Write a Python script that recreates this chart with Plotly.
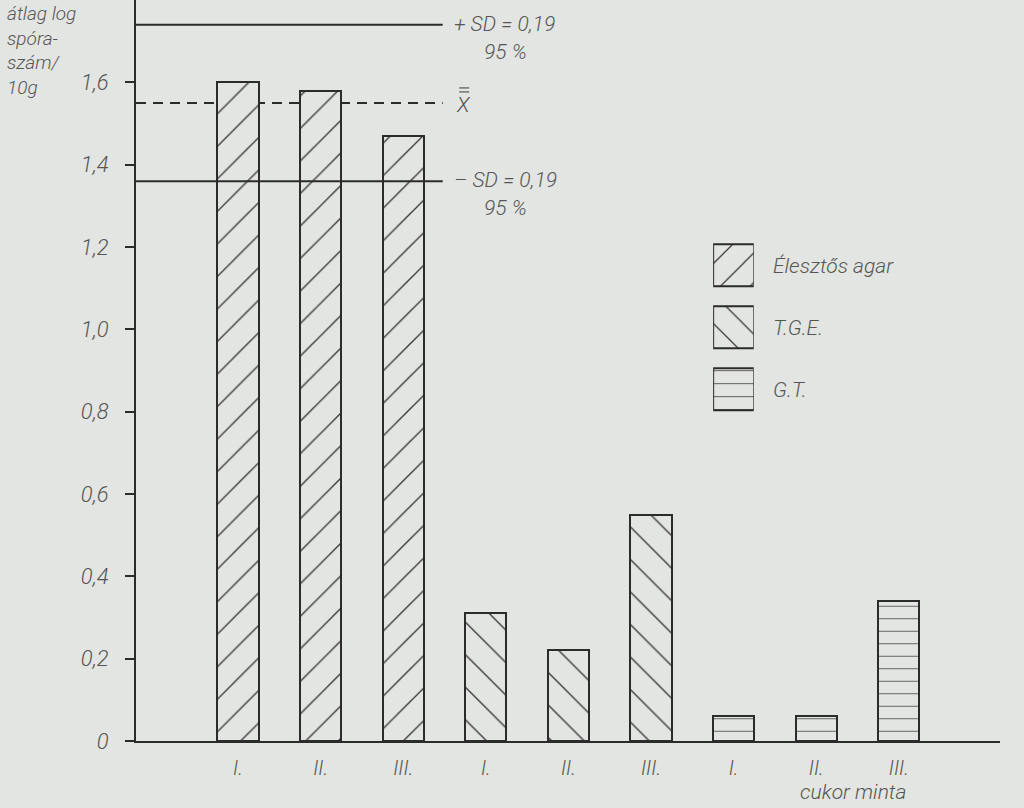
import plotly.graph_objects as go

# Data (mean log spore count / 10 g)
media = ["Élesztős agar", "T.G.E.", "G.T."]
samples = ["I.", "II.", "III."]
elesztos_values = [1.60, 1.58, 1.47]
tge_values = [0.31, 0.22, 0.55]
gt_values = [0.06, 0.06, 0.34]

# Overall mean and +/- SD reference lines
mean_value = 1.55
sd_value = 0.19

y_tick_vals = [0, 0.2, 0.4, 0.6, 0.8, 1.0, 1.2, 1.4, 1.6]
y_tick_text = ["0", "0,2", "0,4", "0,6", "0,8", "1,0", "1,2", "1,4", "1,6"]

BG = "#e3e5e2"
INK = "#2b2b2b"
TXT = "#555555"
FONT = "Roboto"

series = [elesztos_values, tge_values, gt_values]
hatches = {"Élesztős agar": ("/", 23), "T.G.E.": ("\\", 23), "G.T.": ("-", 12.5)}

# unique category keys so the roman numerals can repeat on the axis
keys = [f"{m} {s}" for m in media for s in samples]

fig = go.Figure()

for medium, vals in zip(media, series):
    shape, size = hatches[medium]
    fig.add_trace(go.Bar(
        x=[f"{medium} {s}" for s in samples],
        y=vals,
        width=0.5,
        name=medium,
        marker=dict(
            color=BG,
            line=dict(color=INK, width=2),
            pattern=dict(shape=shape, size=size, solidity=0.06,
                         fgcolor="#3a3a3a", bgcolor=BG, fillmode="replace"),
        ),
        showlegend=False,
    ))

# legend swatches drawn as a tiny horizontal bar chart on its own axes
for medium in media:
    shape, size = hatches[medium]
    fig.add_trace(go.Bar(
        x=[1], y=[medium], orientation="h", width=0.68,
        xaxis="x2", yaxis="y2", showlegend=False, hoverinfo="skip",
        marker=dict(
            color=BG,
            line=dict(color=INK, width=2),
            pattern=dict(shape=shape, size=21 if shape != "-" else 13,
                         solidity=0.06, fgcolor="#3a3a3a", bgcolor=BG,
                         fillmode="replace"),
        ),
    ))

italic = dict(family=FONT, color=TXT, style="italic", weight=300)

line_end = 0.355  # reference lines stop just past the third bar
fig.add_shape(type="line", xref="paper", x0=0, x1=line_end,
              y0=mean_value, y1=mean_value, layer="below",
              line=dict(color=INK, width=2, dash="10px,7px"))
for y in (mean_value + sd_value, mean_value - sd_value):
    fig.add_shape(type="line", xref="paper", x0=0, x1=line_end,
                  y0=y, y1=y, layer="above",
                  line=dict(color=INK, width=2))

# double bar over the X (grand mean symbol)
for dy in (11, 15):
    fig.add_shape(type="line", xref="paper", xsizemode="pixel", xanchor=0.366,
                  x0=7, x1=17, ysizemode="pixel", yanchor=mean_value,
                  y0=dy, y1=dy, line=dict(color=TXT, width=1.2))

sd_txt = f"{sd_value:.2f}".replace(".", ",")
annotations = [
    dict(text=f"+ SD = {sd_txt}", y=mean_value + sd_value, yshift=1),
    dict(text="95 %", y=mean_value + sd_value, yshift=-27, xshift=30),
    dict(text="X", y=mean_value, yshift=-2, xshift=2),
    dict(text=f"– SD = {sd_txt}", y=mean_value - sd_value, yshift=1),
    dict(text="95 %", y=mean_value - sd_value, yshift=-27, xshift=30),
]
for a in annotations:
    fig.add_annotation(xref="paper", x=0.366, xanchor="left", yanchor="middle",
                       showarrow=False, font=dict(size=21, **italic), **a)

fig.add_annotation(text="átlag log<br>spóra-<br>szám/<br>10g", xref="paper",
                   yref="paper", x=-0.152, y=1.0, xanchor="left", yanchor="top",
                   align="left", showarrow=False,
                   font=dict(size=19, **italic))
fig.add_annotation(text="cukor minta", xref="paper", yref="paper",
                   x=0.83, y=-0.069, xanchor="center", yanchor="middle",
                   showarrow=False, font=dict(size=21, **italic))

fig.update_layout(
    width=1024, height=808,
    paper_bgcolor=BG, plot_bgcolor=BG,
    margin=dict(l=136, r=24, t=0, b=67),
    barmode="overlay",
    bargap=0,
    showlegend=False,
    xaxis=dict(
        type="category", categoryorder="array", categoryarray=keys,
        range=[-1.235, 9.225],
        tickvals=keys, ticktext=samples * len(media),
        showline=True, linecolor=INK, linewidth=2,
        ticks="", ticklabelstandoff=8, showgrid=False, zeroline=False,
        tickfont=dict(size=20, **italic),
    ),
    yaxis=dict(
        range=[0, 1.80],
        tickvals=y_tick_vals, ticktext=y_tick_text,
        showline=True, linecolor=INK, linewidth=2,
        ticks="outside", ticklen=9, tickwidth=1.5, tickcolor=INK,
        ticklabelstandoff=12, showgrid=False, zeroline=False,
        tickfont=dict(size=22, **italic),
    ),
    xaxis2=dict(domain=[0.668, 0.715], range=[0, 1], anchor="y2",
                visible=False),
    yaxis2=dict(domain=[0.4325, 0.684], anchor="x2", side="right",
                type="category", categoryorder="array", categoryarray=media,
                autorange="reversed", showgrid=False, showline=False,
                zeroline=False, ticks="outside", ticklen=14,
                tickcolor="rgba(0,0,0,0)",
                tickfont=dict(size=21, **italic)),
)

# drop the browser's default body margin so the figure fills the window
fig.write_html("out.html", config={"displayModeBar": False},
               post_script="document.body.style.margin='0';")
